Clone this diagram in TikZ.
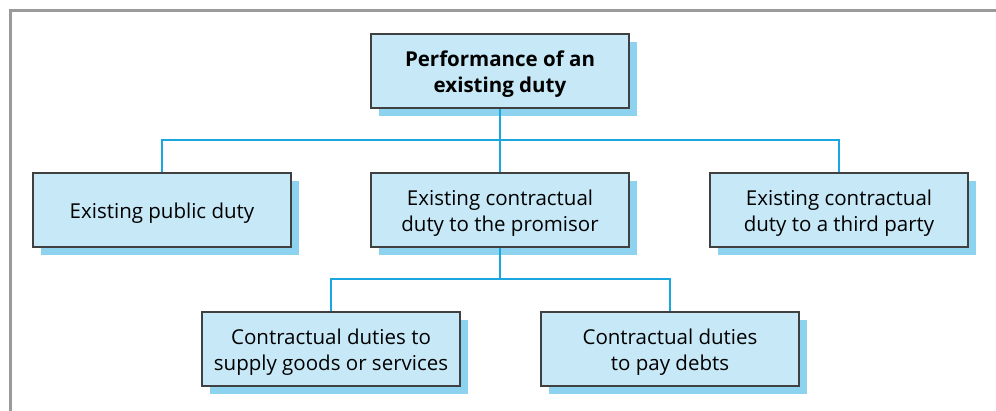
\documentclass[tikz,border=0pt]{standalone}
\usepackage{fontspec}
\setmainfont{Open Sans}
\definecolor{boxfill}{HTML}{C6E8F7}
\definecolor{shadowc}{HTML}{8DD3F0}
\definecolor{edgec}{HTML}{404040}
\definecolor{linec}{HTML}{1AA6DF}
\definecolor{framec}{HTML}{9A9A9A}
\begin{document}
\begin{tikzpicture}[x=1pt,y=-1pt,
  box/.style={draw=edgec,line width=1.3pt,fill=boxfill,minimum width=258pt,minimum height=74pt,inner sep=0pt},
  boxtext/.style={align=center,font=\fontsize{20.5}{26}\selectfont,inner sep=0pt,yshift=-3pt},
  conn/.style={draw=linec,line width=2.7pt}]
\useasboundingbox (0,0) rectangle (996,411);
\draw[framec,line width=3pt] (10,411) -- (10,11) -- (996,11);
% shadows
\foreach \x/\y in {500/71, 162/210, 500/210, 839/210, 331/349, 670/349}
  \fill[shadowc] (\x-129+8,\y-37+8) rectangle (\x+129+8,\y+37+8);
\coordinate (j1) at (500,140);
\coordinate (j2) at (500,279);
\node[box,label={[boxtext,font=\bfseries\fontsize{20.5}{26}\selectfont]center:{Performance of an\\existing duty}}] (top) at (500,71) {};
\node[box,label={[boxtext]center:{Existing public duty}}] (pub) at (162,210) {};
\node[box,label={[boxtext]center:{Existing contractual\\duty to the promisor}}] (mid) at (500,210) {};
\node[box,label={[boxtext]center:{Existing contractual\\duty to a third party}}] (thd) at (839,210) {};
\node[box,label={[boxtext]center:{Contractual duties to\\supply goods or services}}] (sup) at (331,349) {};
\node[box,label={[boxtext]center:{Contractual duties\\to pay debts}}] (pay) at (670,349) {};
\draw[conn] (top.south) -- (j1) -| (pub.north);
\draw[conn] (j1) -- (mid.north);
\draw[conn] (j1) -| (thd.north);
\draw[conn] (mid.south) -- (j2) -| (sup.north);
\draw[conn] (j2) -| (pay.north);
\end{tikzpicture}
\end{document}
